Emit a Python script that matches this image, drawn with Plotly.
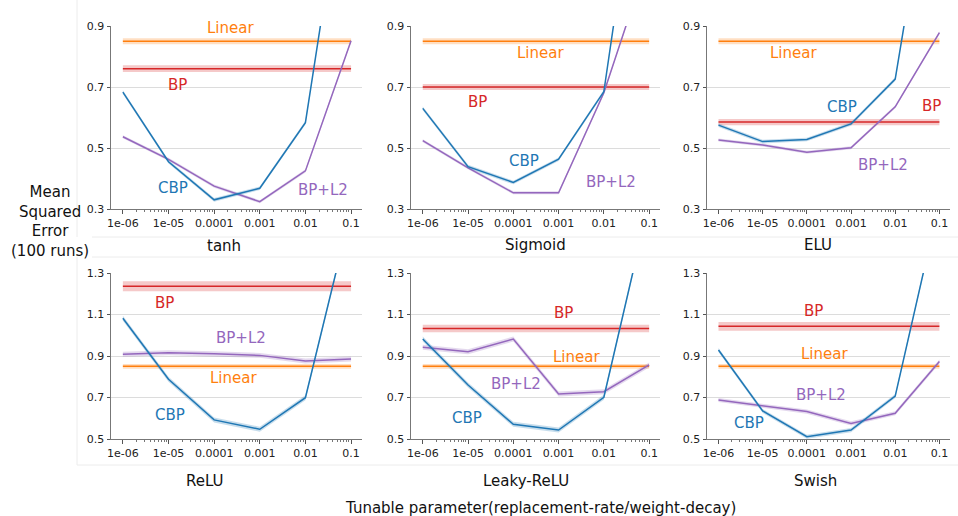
import plotly.graph_objects as go

# ---------------------------------------------------------------- data
params = [1e-6, 1e-5, 1e-4, 1e-3, 1e-2, 1e-1]
tick_text = ["1e-06", "1e-05", "0.0001", "0.001", "0.01", "0.1"]

activations = ["tanh", "Sigmoid", "ELU", "ReLU", "Leaky-ReLU", "Swish"]

cbp_mse = {
    "tanh":       [0.683, 0.455, 0.330, 0.368, 0.583, 1.55],
    "Sigmoid":    [0.630, 0.439, 0.387, 0.463, 0.685, 1.70],
    "ELU":        [0.575, 0.521, 0.528, 0.579, 0.726, 1.60],
    "ReLU":       [1.082, 0.788, 0.592, 0.547, 0.699, 1.60],
    "Leaky-ReLU": [0.982, 0.760, 0.571, 0.543, 0.701, 1.64],
    "Swish":      [0.929, 0.635, 0.511, 0.543, 0.707, 1.64],
}
l2_mse = {
    "tanh":       [0.537, 0.463, 0.375, 0.324, 0.425, 0.852],
    "Sigmoid":    [0.524, 0.435, 0.353, 0.353, 0.681, 1.13],
    "ELU":        [0.526, 0.510, 0.486, 0.501, 0.635, 0.878],
    "ReLU":       [0.908, 0.916, 0.911, 0.903, 0.876, 0.886],
    "Leaky-ReLU": [0.942, 0.921, 0.982, 0.717, 0.728, 0.857],
    "Swish":      [0.688, 0.660, 0.632, 0.575, 0.624, 0.873],
}
bp_mse = {"tanh": 0.760, "Sigmoid": 0.700, "ELU": 0.585,
          "ReLU": 1.236, "Leaky-ReLU": 1.033, "Swish": 1.043}
linear_mse = {"tanh": 0.850, "Sigmoid": 0.850, "ELU": 0.850,
              "ReLU": 0.850, "Leaky-ReLU": 0.850, "Swish": 0.850}

# standard errors (shaded bands)
cbp_se = {"tanh": 0.006, "Sigmoid": 0.006, "ELU": 0.006,
          "ReLU": 0.012, "Leaky-ReLU": 0.012, "Swish": 0.010}
l2_se = {"tanh": 0.005, "Sigmoid": 0.005, "ELU": 0.005,
         "ReLU": 0.012, "Leaky-ReLU": 0.012, "Swish": 0.010}
bp_se = {"tanh": 0.011, "Sigmoid": 0.010, "ELU": 0.010,
         "ReLU": 0.024, "Leaky-ReLU": 0.018, "Swish": 0.021}
linear_se = {"tanh": 0.010, "Sigmoid": 0.010, "ELU": 0.010,
             "ReLU": 0.012, "Leaky-ReLU": 0.012, "Swish": 0.012}

# ---------------------------------------------------------------- style
COLORS = {"CBP": "#1f77b4", "BP+L2": "#9467bd", "BP": "#d62728", "Linear": "#ff7f0e"}
BANDS = {"CBP": "rgba(31,119,180,0.25)", "BP+L2": "rgba(148,103,189,0.25)",
         "BP": "rgba(214,39,40,0.25)", "Linear": "rgba(255,127,14,0.25)"}
FONT = "DejaVu Sans"
W, H = 958, 516

# in-plot method labels: (log10 x, y)
label_pos = {
    "tanh":       {"Linear": (-3.64, 0.895), "BP": (-4.81, 0.707), "CBP": (-4.91, 0.368), "BP+L2": (-1.61, 0.362)},
    "Sigmoid":    {"Linear": (-3.39, 0.810), "BP": (-4.80, 0.652), "CBP": (-3.77, 0.457), "BP+L2": (-1.85, 0.390)},
    "ELU":        {"Linear": (-4.31, 0.810), "BP": (-1.18, 0.638), "CBP": (-3.20, 0.633), "BP+L2": (-2.27, 0.444)},
    "ReLU":       {"Linear": (-3.58, 0.792), "BP": (-5.08, 1.154), "CBP": (-4.97, 0.616), "BP+L2": (-3.41, 0.985)},
    "Leaky-ReLU": {"Linear": (-2.61, 0.897), "BP": (-2.90, 1.106), "CBP": (-5.03, 0.600), "BP+L2": (-3.93, 0.765)},
    "Swish":      {"Linear": (-3.61, 0.908), "BP": (-3.86, 1.118), "CBP": (-5.31, 0.576), "BP+L2": (-3.68, 0.712)},
}

# panel geometry in pixels
col_px = [(111, 362), (411, 660), (707, 950)]
row_px = [(26, 209), (273, 439)]
row_range = [[0.3, 0.9], [0.5, 1.3]]
row_ticks = [[0.3, 0.5, 0.7, 0.9], [0.5, 0.7, 0.9, 1.1, 1.3]]
title_px = {"tanh": (224, 246), "Sigmoid": (535, 245), "ELU": (818, 245),
            "ReLU": (205, 481), "Leaky-ReLU": (526, 481), "Swish": (815, 481)}

minor_vals = [m * 10.0 ** e for e in range(-6, -1) for m in range(2, 10)]


def px(x):
    return x / W


def py(y):
    return 1 - y / H


fig = go.Figure()
annotations = []


def add_series(i, name, ys, se):
    xa, ya = f"x{i + 1}", f"y{i + 1}"
    upper = [v + se for v in ys]
    lower = [v - se for v in ys]
    fig.add_trace(go.Scatter(x=params + params[::-1], y=upper + lower[::-1],
                             fill="toself", fillcolor=BANDS[name], mode="lines",
                             line=dict(width=0), hoverinfo="skip",
                             showlegend=False, xaxis=xa, yaxis=ya))
    fig.add_trace(go.Scatter(x=params, y=ys, mode="lines", name=name,
                             line=dict(color=COLORS[name], width=1.5),
                             showlegend=False, xaxis=xa, yaxis=ya))


for i, act in enumerate(activations):
    r, c = divmod(i, 3)
    add_series(i, "Linear", [linear_mse[act]] * len(params), linear_se[act])
    add_series(i, "BP", [bp_mse[act]] * len(params), bp_se[act])
    add_series(i, "BP+L2", l2_mse[act], l2_se[act])
    add_series(i, "CBP", cbp_mse[act], cbp_se[act])

    sfx = "" if i == 0 else str(i + 1)
    x0, x1 = col_px[c]
    y0, y1 = row_px[r]
    fig.layout["xaxis" + sfx] = dict(
        type="log", domain=[px(x0), px(x1)], range=[-6.26, -0.76],
        anchor="y" + (sfx or ""), automargin=False, tickmode="array", tickvals=params,
        ticktext=tick_text, ticks="outside", ticklen=3.5, tickwidth=1,
        tickcolor="#555555", showline=True, linecolor="#777777", linewidth=1,
        showgrid=False, zeroline=False,
        tickfont=dict(family=FONT, size=11, color="#222222"),
        minor=dict(tickmode="array", tickvals=minor_vals, ticks="outside",
                   ticklen=2, tickcolor="#777777", showgrid=False),
    )
    fig.layout["yaxis" + sfx] = dict(
        domain=[py(y1), py(y0)], range=row_range[r], anchor="x" + (sfx or ""),
        automargin=False, tickmode="array", tickvals=row_ticks[r],
        ticktext=[f"{v:.1f}" for v in row_ticks[r]], ticks="outside",
        ticklen=3.5, tickwidth=1, tickcolor="#555555", showline=True,
        linecolor="#777777", linewidth=1, showgrid=True, gridcolor="#dcdcdc",
        gridwidth=1, zeroline=False,
        tickfont=dict(family=FONT, size=11, color="#222222"),
    )

    for name, (lx, ly) in label_pos[act].items():
        annotations.append(dict(x=lx, y=ly, xref="x" + (sfx or ""), yref="y" + (sfx or ""),
                                text=name, showarrow=False,
                                font=dict(family=FONT, size=15, color=COLORS[name]),
                                xanchor="center", yanchor="middle"))

    tx, ty = title_px[act]
    annotations.append(dict(x=px(tx), y=py(ty), xref="paper", yref="paper", text=act,
                            showarrow=False, font=dict(family=FONT, size=15, color="#111111"),
                            xanchor="center", yanchor="middle"))

annotations.append(dict(x=px(50), y=py(221), xref="paper", yref="paper",
                        text="Mean<br>Squared<br>Error<br>(100 runs)", showarrow=False,
                        align="center",
                        font=dict(family=FONT, size=15, color="#111111"),
                        xanchor="center", yanchor="middle"))
annotations.append(dict(x=px(540), y=py(508), xref="paper", yref="paper",
                        text="Tunable parameter(replacement-rate/weight-decay)",
                        showarrow=False, font=dict(family=FONT, size=15, color="#111111"),
                        xanchor="center", yanchor="middle"))

# light frame separating the panel grid
frame = "#ececec"
shapes = [
    dict(type="line", xref="paper", yref="paper", x0=px(77), x1=px(77), y0=py(0), y1=py(237),
         line=dict(color=frame, width=1), layer="below"),
    dict(type="line", xref="paper", yref="paper", x0=px(77), x1=px(77), y0=py(257), y1=py(465),
         line=dict(color=frame, width=1), layer="below"),
    dict(type="line", xref="paper", yref="paper", x0=px(92), x1=px(958), y0=py(237), y1=py(237),
         line=dict(color=frame, width=1), layer="below"),
    dict(type="line", xref="paper", yref="paper", x0=px(92), x1=px(958), y0=py(257), y1=py(257),
         line=dict(color=frame, width=1), layer="below"),
    dict(type="line", xref="paper", yref="paper", x0=px(77), x1=px(958), y0=py(465), y1=py(465),
         line=dict(color=frame, width=1), layer="below"),
]

fig.update_layout(
    width=W, height=H, margin=dict(l=0, r=0, t=0, b=0, autoexpand=False),
    paper_bgcolor="white", plot_bgcolor="white",
    annotations=annotations, shapes=shapes, showlegend=False,
    font=dict(family=FONT),
)

fig.write_html("out.html")
